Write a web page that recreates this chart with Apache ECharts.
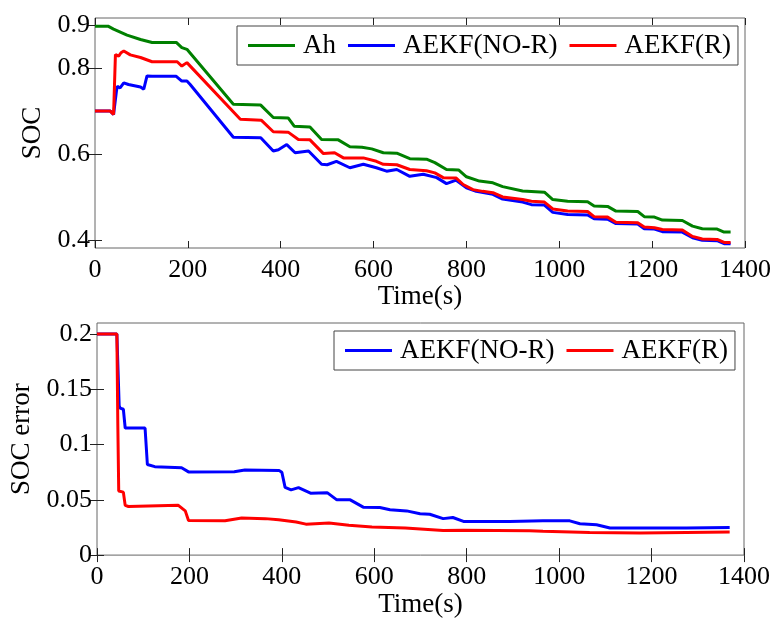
<!DOCTYPE html>
<html>
<head>
<meta charset="utf-8">
<script src="https://cdn.jsdelivr.net/npm/echarts@6/dist/echarts.min.js"></script>
<style>
  html, body { margin: 0; padding: 0; background: #fff; }
  #chart { width: 774px; height: 619px; }
</style>
</head>
<body>
<div id="chart"></div>
<script>
// top plot: SOC estimates
var tAh = [0, 28, 40, 69, 98, 123, 175, 187, 198, 298, 357, 384, 416, 429, 463, 488, 524, 549, 575, 596, 621, 650, 678, 714, 732, 757, 783, 800, 828, 857, 878, 921, 968, 986, 1018, 1061, 1075, 1104, 1122, 1169, 1183, 1205, 1222, 1265, 1287, 1308, 1340, 1355, 1369];
var socAh = [0.898, 0.898, 0.891, 0.877, 0.867, 0.860, 0.860, 0.848, 0.844, 0.716, 0.714, 0.685, 0.684, 0.665, 0.663, 0.634, 0.633, 0.617, 0.616, 0.612, 0.603, 0.602, 0.589, 0.588, 0.580, 0.564, 0.563, 0.547, 0.537, 0.533, 0.524, 0.514, 0.511, 0.494, 0.490, 0.489, 0.479, 0.478, 0.467, 0.466, 0.454, 0.453, 0.446, 0.445, 0.432, 0.426, 0.425, 0.418, 0.418];

var tNoR = [0, 33, 40, 46, 48, 54, 62, 72, 98, 105, 112, 123, 175, 187, 198, 205, 298, 357, 384, 395, 413, 431, 460, 488, 500, 520, 549, 578, 606, 628, 650, 678, 707, 736, 757, 778, 800, 821, 857, 878, 921, 940, 968, 986, 1018, 1061, 1075, 1104, 1122, 1169, 1183, 1205, 1222, 1265, 1287, 1308, 1340, 1355, 1369];
var socNoR = [0.700, 0.700, 0.692, 0.745, 0.758, 0.754, 0.766, 0.762, 0.756, 0.751, 0.782, 0.781, 0.781, 0.770, 0.770, 0.762, 0.639, 0.638, 0.607, 0.610, 0.622, 0.603, 0.607, 0.576, 0.575, 0.583, 0.568, 0.576, 0.568, 0.560, 0.564, 0.548, 0.553, 0.545, 0.531, 0.539, 0.521, 0.513, 0.506, 0.495, 0.488, 0.482, 0.481, 0.464, 0.459, 0.458, 0.449, 0.448, 0.438, 0.437, 0.426, 0.425, 0.419, 0.418, 0.405, 0.399, 0.398, 0.391, 0.391];

var tR = [0, 33, 40, 44, 51, 56, 62, 76, 98, 123, 177, 187, 198, 313, 358, 384, 416, 438, 463, 492, 516, 535, 578, 606, 621, 650, 678, 714, 732, 750, 778, 793, 814, 835, 857, 878, 921, 940, 968, 986, 1018, 1061, 1075, 1104, 1122, 1169, 1183, 1205, 1222, 1265, 1287, 1308, 1340, 1355, 1369];
var socR = [0.700, 0.700, 0.692, 0.832, 0.828, 0.836, 0.840, 0.831, 0.825, 0.815, 0.815, 0.805, 0.813, 0.681, 0.679, 0.652, 0.651, 0.634, 0.633, 0.601, 0.603, 0.591, 0.591, 0.583, 0.576, 0.575, 0.564, 0.561, 0.556, 0.545, 0.544, 0.529, 0.517, 0.513, 0.510, 0.500, 0.494, 0.490, 0.488, 0.472, 0.467, 0.466, 0.454, 0.453, 0.441, 0.440, 0.430, 0.428, 0.424, 0.423, 0.408, 0.402, 0.401, 0.394, 0.394];

// bottom plot: SOC error
var tErrNoR = [0, 43, 48, 50, 57, 61, 104, 109, 125, 183, 198, 297, 320, 394, 400, 407, 420, 436, 462, 498, 519, 548, 576, 612, 634, 670, 699, 720, 749, 770, 793, 893, 965, 1023, 1045, 1081, 1110, 1175, 1275, 1369];
var errNoR = [0.2, 0.2, 0.135, 0.133, 0.132, 0.115, 0.115, 0.082, 0.080, 0.079, 0.0753, 0.0755, 0.077, 0.0765, 0.075, 0.0613, 0.059, 0.061, 0.056, 0.0565, 0.050, 0.050, 0.0434, 0.043, 0.041, 0.040, 0.0374, 0.037, 0.033, 0.034, 0.0305, 0.0305, 0.031, 0.031, 0.0284, 0.0275, 0.0245, 0.0245, 0.0245, 0.025];

var tErrR = [0, 43, 45, 47, 57, 61, 68, 176, 191, 198, 277, 313, 364, 393, 431, 452, 502, 545, 595, 667, 749, 792, 936, 965, 1066, 1175, 1275, 1369];
var errR = [0.2, 0.2, 0.12, 0.058, 0.057, 0.045, 0.044, 0.045, 0.040, 0.0314, 0.031, 0.0335, 0.033, 0.032, 0.030, 0.028, 0.029, 0.027, 0.0254, 0.0245, 0.0222, 0.0225, 0.022, 0.0215, 0.0205, 0.020, 0.0205, 0.0208];

var socTicks = [0.4, 0.6, 0.8, 0.9];
var errTicks = [0, 0.05, 0.1, 0.15, 0.2];

function zip(xs, ys) {
    return xs.map(function (x, i) { return [x, ys[i]]; });
}

var font = "'Liberation Serif', 'Times New Roman', serif";
var frame = '#666';

function xAx(grid, bottom, nameGap) {
    return {
        type: 'value', gridIndex: grid, min: 0, max: 1400, interval: 200,
        position: bottom ? 'bottom' : 'top',
        name: bottom ? 'Time(s)' : '', nameLocation: 'middle', nameGap: nameGap,
        nameTextStyle: { fontFamily: font, fontSize: 27, color: '#000' },
        axisLine: { show: false },
        axisTick: { inside: true, length: 7, lineStyle: { color: '#222' } },
        axisLabel: { show: bottom, fontFamily: font, fontSize: 26, color: '#000', margin: 9,
            formatter: function (v) { return String(v); } },
        splitLine: { show: false }
    };
}
function yAx(grid, left, min, max, ticks, name, nameGap) {
    return {
        type: 'value', gridIndex: grid, min: min, max: max,
        position: left ? 'left' : 'right',
        name: left ? name : '', nameLocation: 'middle', nameGap: nameGap,
        nameTextStyle: { fontFamily: font, fontSize: 27, color: '#000' },
        axisLine: { show: false },
        axisTick: { inside: true, length: 7, customValues: ticks, lineStyle: { color: '#222' } },
        axisLabel: { show: left, customValues: ticks, fontFamily: font, fontSize: 26, color: '#000', margin: 5,
            formatter: function (v) { return String(+v.toFixed(2)); } },
        splitLine: { show: false }
    };
}
function legend(left, top, names) {
    return {
        left: left, top: top, data: names, icon: 'rect', itemWidth: 47, itemHeight: 3, itemGap: 12,
        borderColor: '#444', borderWidth: 1, padding: [6, 7, 6, 11],
        textStyle: { fontFamily: font, fontSize: 27, color: '#000', padding: [0, 0, 0, 3] }
    };
}
function line(name, data, color, xi, yi) {
    return {
        name: name, type: 'line', data: data, xAxisIndex: xi, yAxisIndex: yi,
        showSymbol: false, symbol: 'none', color: color,
        lineStyle: { width: 3, color: color }
    };
}

var chart = echarts.init(document.getElementById('chart'));
chart.setOption({
    animation: false,
    backgroundColor: '#fff',
    grid: [
        { left: 95, top: 18, width: 651, height: 230, show: true, borderColor: frame, borderWidth: 1 },
        { left: 97, top: 323, width: 647, height: 234, show: true, borderColor: frame, borderWidth: 1 }
    ],
    xAxis: [xAx(0, true, 26), xAx(0, false, 0), xAx(1, true, 34), xAx(1, false, 0)],
    yAxis: [
        yAx(0, true, 0.381, 0.917, socTicks, 'SOC', 48),
        yAx(0, false, 0.381, 0.917, socTicks, '', 0),
        yAx(1, true, 0, 0.21, errTicks, 'SOC error', 56),
        yAx(1, false, 0, 0.21, errTicks, '', 0)
    ],
    legend: [
        legend(237, 26, ['Ah', 'AEKF(NO-R)', 'AEKF(R)']),
        legend(334, 331, ['AEKF(NO-R)', 'AEKF(R)'])
    ],
    series: [
        line('Ah', zip(tAh, socAh), '#008000', 0, 0),
        line('AEKF(NO-R)', zip(tNoR, socNoR), '#0000ff', 0, 0),
        line('AEKF(R)', zip(tR, socR), '#ff0000', 0, 0),
        line('AEKF(NO-R)', zip(tErrNoR, errNoR), '#0000ff', 2, 2),
        line('AEKF(R)', zip(tErrR, errR), '#ff0000', 2, 2)
    ]
});
</script>
</body>
</html>
